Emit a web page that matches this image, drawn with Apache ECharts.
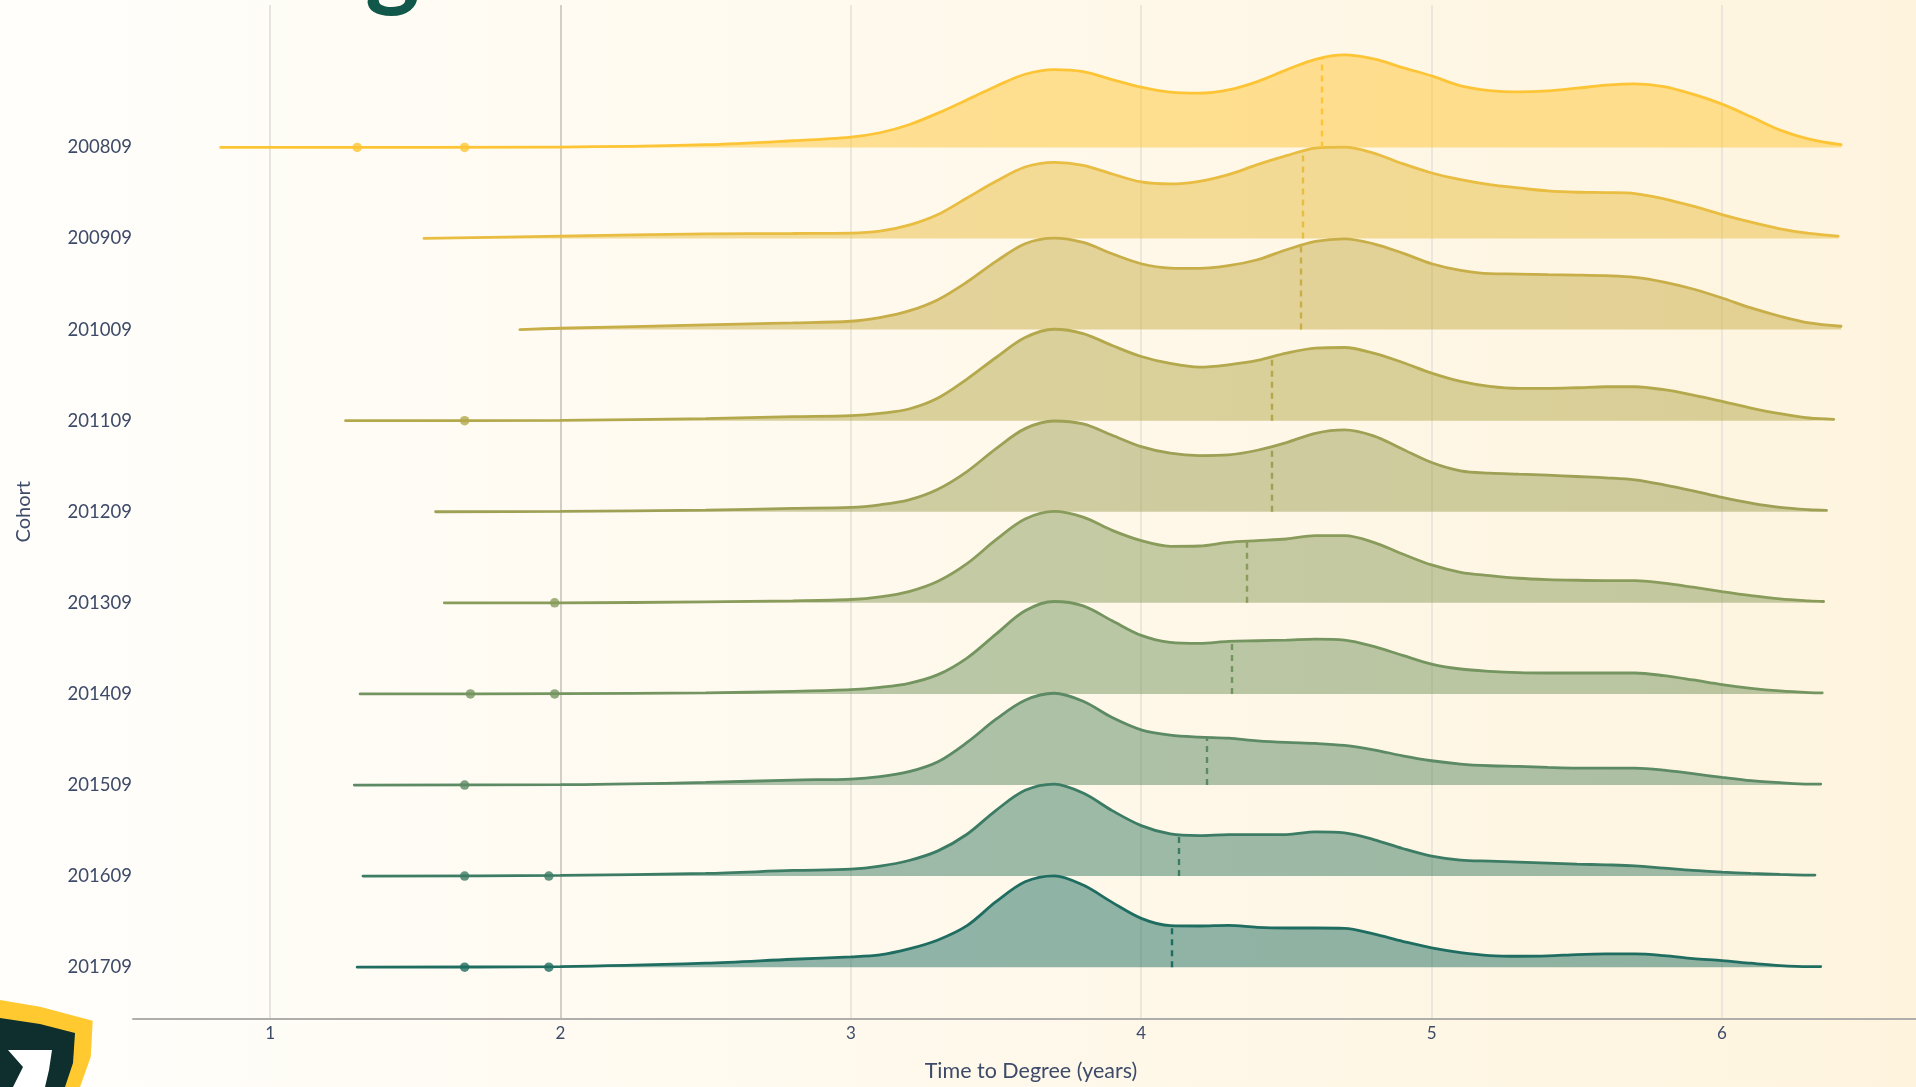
<!DOCTYPE html>
<html><head><meta charset="utf-8">
<style>html,body{margin:0;padding:0;background:#fffefa}#c{width:1916px;height:1087px}</style>
<script src="https://cdn.jsdelivr.net/npm/echarts@6/dist/echarts.min.js"></script>
</head><body><div id="c"></div>
<script>
const cohorts = ['200809','200909','201009','201109','201209','201309','201409','201509','201609','201709'];
const xTicks = [1,2,3,4,5,6];
const years = [2.0,2.5,2.8,3.0,3.1,3.2,3.3,3.4,3.5,3.6,3.7,3.8,3.9,4.0,4.1,4.2,4.3,4.4,4.5,4.6,4.7,4.8,4.9,5.0,5.1,5.2,5.3,5.4,5.5,5.6,5.7,5.8,5.9,6.0,6.1,6.2,6.3];
const startYear = [0.83,1.53,1.86,1.26,1.57,1.60,1.31,1.29,1.32,1.30];
const endYear = [6.41,6.40,6.41,6.385,6.36,6.35,6.345,6.34,6.32,6.34];
const densityPerRow = 274;
const d200809 = [1,8,20,31,44,68,103,143,184,220,234,228,204,181,166,163,173,198,233,265,278,266,240,215,185,171,167,170,178,187,191,183,160,130,92,52,25,8];
const d200909 = [7,14,15,16,22,40,72,122,172,215,229,220,194,170,164,172,192,222,249,272,275,257,225,197,177,162,152,143,139,138,135,119,97,72,49,29,15,7];
const d201009 = [4,14,20,25,36,56,90,143,205,258,275,262,228,198,185,184,192,210,240,265,273,258,230,198,178,168,167,165,164,162,157,143,122,95,65,40,20,10];
const d201109 = [1,6,12,15,22,35,68,125,190,250,275,262,226,193,172,161,168,181,203,218,220,203,175,143,118,103,97,97,99,102,102,93,77,58,38,21,8,4];
const d201209 = [1,5,10,13,21,36,68,121,190,250,273,264,230,196,176,169,171,185,208,236,246,228,188,148,123,116,113,110,106,102,96,81,63,43,26,13,6,4];
const d201309 = [0,3,6,10,18,34,65,118,190,252,275,258,218,187,170,171,182,187,192,202,202,182,147,114,92,82,74,70,68,67,67,59,47,34,22,12,6,4];
const d201409 = [1,3,8,13,20,32,58,108,180,250,278,265,220,176,155,152,158,160,162,165,162,143,116,90,75,68,64,63,63,63,63,55,42,28,17,9,4,3];
const d201509 = [1,8,15,18,25,40,70,128,198,255,276,252,203,166,150,144,141,133,128,125,119,106,88,73,63,58,56,53,51,51,51,45,34,23,13,7,3,3];
const d201609 = [2,8,17,21,30,47,76,126,198,258,277,250,197,152,127,122,125,125,125,133,130,110,83,60,48,45,42,39,36,34,31,24,17,12,8,5,3,3];
const d201709 = [2,12,24,31,37,55,82,125,197,257,275,247,195,147,125,124,126,120,118,118,117,100,78,58,44,35,33,34,38,40,40,35,26,20,12,5,2,2];
const densities = [d200809,d200909,d201009,d201109,d201209,d201309,d201409,d201509,d201609,d201709];
const medians = [4.62,4.555,4.55,4.45,4.45,4.364,4.312,4.226,4.128,4.105];
const medianTop = [271,262,253,191,193,184,153,141,122,125];
const outliers = [[1.30,1.67],[],[],[1.67],[],[1.98],[1.69,1.98],[1.67],[1.67,1.96],[1.67,1.96]];
const colors = ['#fdc536','#e8bd42','#c8ae48','#b4a84c','#9ea055','#8a9c5c','#759560','#5b8a64','#3c7c64','#1f6d60'];

const n = cohorts.length;
const series = [];
cohorts.forEach((name,i)=>{
  const base = n-1-i;
  const pts = [[startYear[i],base]];
  years.forEach((y,k)=>pts.push([y,base+densities[i][k]/densityPerRow]));
  pts.push([endYear[i],base+densities[i][years.length]/densityPerRow]);
  series.push({
    type:'line',name,data:pts,smooth:0.33,showSymbol:false,symbol:'none',
    lineStyle:{color:colors[i],width:2.8,cap:'round'},
    areaStyle:{color:colors[i],opacity:0.5,origin:base},
    silent:true,animation:false,
    markLine:{silent:true,animation:false,symbol:'none',label:{show:false},
      lineStyle:{color:colors[i],type:[6,5],width:2.4},
      data:[[{coord:[medians[i],base]},{coord:[medians[i],base+medianTop[i]/densityPerRow]}]]}
  });
  if(outliers[i].length) series.push({
    type:'scatter',data:outliers[i].map(v=>[v,base]),symbolSize:9.5,
    itemStyle:{color:colors[i]},silent:true,animation:false
  });
});

const textColor = '#3d4a68';
const chart = echarts.init(document.getElementById('c'),null,{renderer:'canvas'});
chart.setOption({
  animation:false,
  backgroundColor:{type:'linear',x:0,y:0,x2:1,y2:0,colorStops:[
    {offset:0,color:'#fffefb'},{offset:0.5,color:'#fff9ec'},{offset:1,color:'#fef4de'}]},
  textStyle:{fontFamily:'Lato'},
  grid:{left:133,right:0,top:5,bottom:65,containLabel:false},
  xAxis:{type:'value',min:0.528,max:6.668,
    name:'Time to Degree (years)',nameLocation:'middle',nameGap:41.5,
    nameTextStyle:{color:textColor,fontSize:21.5,fontFamily:'Lato',padding:[0,0,0,13]},
    axisLine:{show:true,onZero:false,lineStyle:{color:'#b0aeaa',width:2}},
    axisTick:{show:false,customValues:xTicks},
    axisLabel:{color:textColor,fontSize:17,margin:7,customValues:xTicks,formatter:v=>String(v)},
    splitLine:{show:true,lineStyle:{color:['#e0ddd6','#c6c5ba','#e8e3d8','#e8e3d8','#e8e3d8','#e8e3d8'],width:1.6}}
  },
  yAxis:{type:'value',min:-0.563,max:10.563,
    name:'Cohort',nameLocation:'middle',nameGap:99,nameRotate:90,
    nameTextStyle:{color:textColor,fontSize:20,fontFamily:'Lato'},
    axisLine:{show:false},axisTick:{show:false,customValues:cohorts.map((c,i)=>i)},
    axisLabel:{color:textColor,fontSize:18.5,margin:1,customValues:cohorts.map((c,i)=>i),
      formatter:v=>cohorts[n-1-Math.round(v)]},
    splitLine:{show:false}
  },
  graphic:[
    {type:'text',z:0,x:365,y:15,style:{text:'g',fontFamily:'Lato',fontWeight:700,fontSize:104,fill:'#12584a',textAlign:'left',textVerticalAlign:'bottom'}},
    {type:'polygon',z:50,shape:{points:[[0,1000],[40,1006.7],[92.7,1020.7],[90.7,1057],[80,1087],[0,1087]]},style:{fill:'#ffc92f'}},
    {type:'polygon',z:51,shape:{points:[[0,1018],[40,1024],[75,1033],[73,1063],[65,1087],[0,1087]]},style:{fill:'#0e2f2e'}},
    {type:'polygon',z:52,shape:{points:[[8,1050],[52,1050],[49,1070],[45,1087],[13,1087],[23,1067]]},style:{fill:'#ffffff'}}
  ],
  series
});
</script></body></html>
